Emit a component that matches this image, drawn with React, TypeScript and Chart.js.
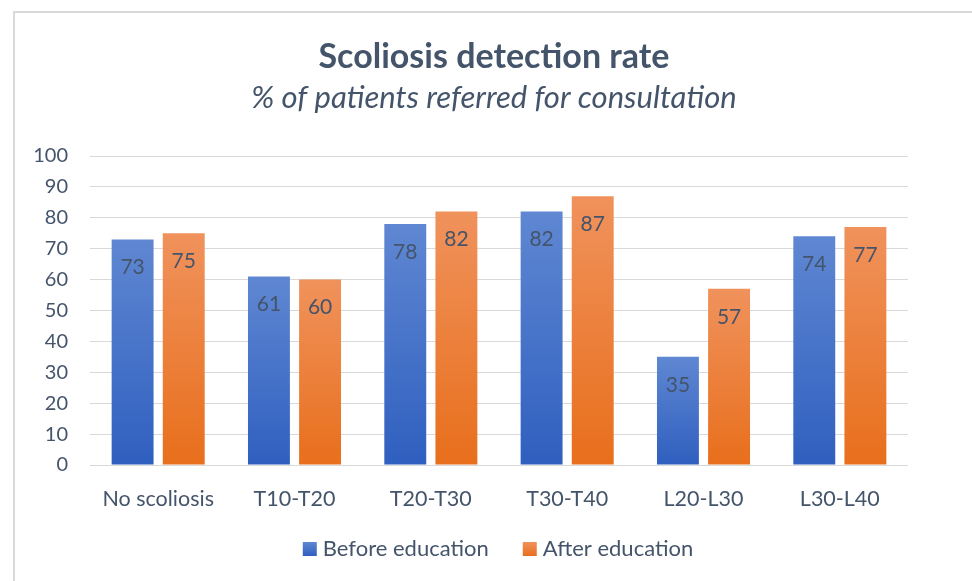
import React, { useEffect, useRef } from "react";
import { Chart, registerables } from "chart.js";

Chart.register(...registerables);

const categories = ["No scoliosis", "T10-T20", "T20-T30", "T30-T40", "L20-L30", "L30-L40"];
const beforeEducation = [73, 61, 78, 82, 35, 74];
const afterEducation = [75, 60, 82, 87, 57, 77];
const yTicks = [0, 10, 20, 30, 40, 50, 60, 70, 80, 90, 100];
const seriesNames = ["Before education", "After education"];
const titleText = "Scoliosis detection rate";
const subtitleText = "% of patients referred for consultation";

const TEXT = "#44546A";
const FONT = "Lato, 'Open Sans', sans-serif";
const BLUE = ["#5F87D2", "#2F5FBF"];
const ORANGE = ["#F0925C", "#E86F1C"];

function gradFactory(top: string, bottom: string) {
  return (ctx: any) => {
    const chart = ctx.chart;
    const area = chart.chartArea;
    if (!area || ctx.type !== "data") return top;
    const y = chart.scales.y;
    const v = ctx.raw as number;
    const yTop = y.getPixelForValue(v);
    const yBot = y.getPixelForValue(0);
    const g = chart.ctx.createLinearGradient(0, yTop, 0, yBot);
    g.addColorStop(0, top);
    g.addColorStop(1, bottom);
    return g;
  };
}

const framePlugin = {
  id: "frame",
  beforeDraw(chart: any) {
    const c = chart.ctx;
    c.save();
    c.fillStyle = "#ffffff";
    c.fillRect(0, 0, chart.width, chart.height);
    c.strokeStyle = "#D9D9D9";
    c.lineWidth = 2;
    c.beginPath();
    c.moveTo(14, chart.height);
    c.lineTo(14, 12);
    c.lineTo(chart.width, 12);
    c.stroke();
    c.restore();
  },
};

const titlePlugin = {
  id: "customTitle",
  afterDraw(chart: any) {
    const c = chart.ctx;
    c.save();
    c.fillStyle = TEXT;
    c.textAlign = "center";
    c.textBaseline = "middle";
    c.font = `bold 34px ${FONT}`;
    c.fillText(titleText, 494, 57);
    c.font = `italic 31px ${FONT}`;
    c.fillText(subtitleText, 494, 98);
    c.restore();
  },
};

const labelPlugin = {
  id: "barLabels",
  afterDatasetsDraw(chart: any) {
    const c = chart.ctx;
    c.save();
    c.fillStyle = TEXT;
    c.font = `21px ${FONT}`;
    c.textAlign = "center";
    c.textBaseline = "middle";
    chart.data.datasets.forEach((ds: any, i: number) => {
      const meta = chart.getDatasetMeta(i);
      meta.data.forEach((bar: any, j: number) => {
        c.fillText(String(ds.data[j]), bar.x, bar.y + 28);
      });
    });
    c.restore();
  },
};

const legendPlugin = {
  id: "customLegend",
  afterDraw(chart: any) {
    const c = chart.ctx;
    c.save();
    c.font = `22px ${FONT}`;
    c.textBaseline = "middle";
    c.textAlign = "left";
    const box = 14, gapText = 6, gapItem = 34;
    const widths = seriesNames.map((n) => c.measureText(n).width);
    const total = widths.reduce((a, w) => a + box + gapText + w, 0) + gapItem;
    let x = 498 - total / 2;
    const cy = 549;
    const cols = [BLUE, ORANGE];
    seriesNames.forEach((n, i) => {
      const g = c.createLinearGradient(0, cy - box / 2, 0, cy + box / 2);
      g.addColorStop(0, cols[i][0]);
      g.addColorStop(1, cols[i][1]);
      c.fillStyle = g;
      c.fillRect(x, cy - box / 2, box, box);
      x += box + gapText;
      c.fillStyle = TEXT;
      c.fillText(n, x, cy);
      x += widths[i] + gapItem;
    });
    c.restore();
  },
};

export default function App() {
  const ref = useRef<HTMLCanvasElement>(null);
  useEffect(() => {
    document.body.style.margin = "0";
    const chart = new Chart(ref.current!, {
      type: "bar",
      data: {
        labels: categories,
        datasets: [
          {
            label: seriesNames[0],
            data: beforeEducation,
            backgroundColor: gradFactory(BLUE[0], BLUE[1]),
            categoryPercentage: 0.75,
            barPercentage: 0.82,
          },
          {
            label: seriesNames[1],
            data: afterEducation,
            backgroundColor: gradFactory(ORANGE[0], ORANGE[1]),
            categoryPercentage: 0.75,
            barPercentage: 0.82,
          },
        ],
      },
      options: {
        responsive: false,
        animation: false,
        devicePixelRatio: 1,
        layout: { padding: { left: 20, right: 64, top: 156, bottom: 52 } },
        plugins: {
          title: { display: false },
          subtitle: { display: false },
          legend: { display: false },
          tooltip: { enabled: false },
        },
        scales: {
          x: {
            grid: { display: false, drawTicks: false },
            border: { display: false },
            ticks: { color: TEXT, font: { family: FONT, size: 21.5 }, padding: 21 },
            afterFit: (s: any) => { s.height = 64; },
          },
          y: {
            min: 0,
            max: 100,
            afterBuildTicks: (s: any) => { s.ticks = yTicks.map((v) => ({ value: v })); },
            grid: { color: "#D9D9D9", lineWidth: 1, drawTicks: false },
            border: { display: false },
            ticks: { color: TEXT, font: { family: FONT, size: 20 }, padding: 22 },
            afterFit: (s: any) => { s.width = 70; },
          },
        },
      },
      plugins: [framePlugin, labelPlugin, legendPlugin, titlePlugin],
    } as any);
    return () => chart.destroy();
  }, []);
  return <canvas ref={ref} width={972} height={581} style={{ display: "block" }} />;
}
